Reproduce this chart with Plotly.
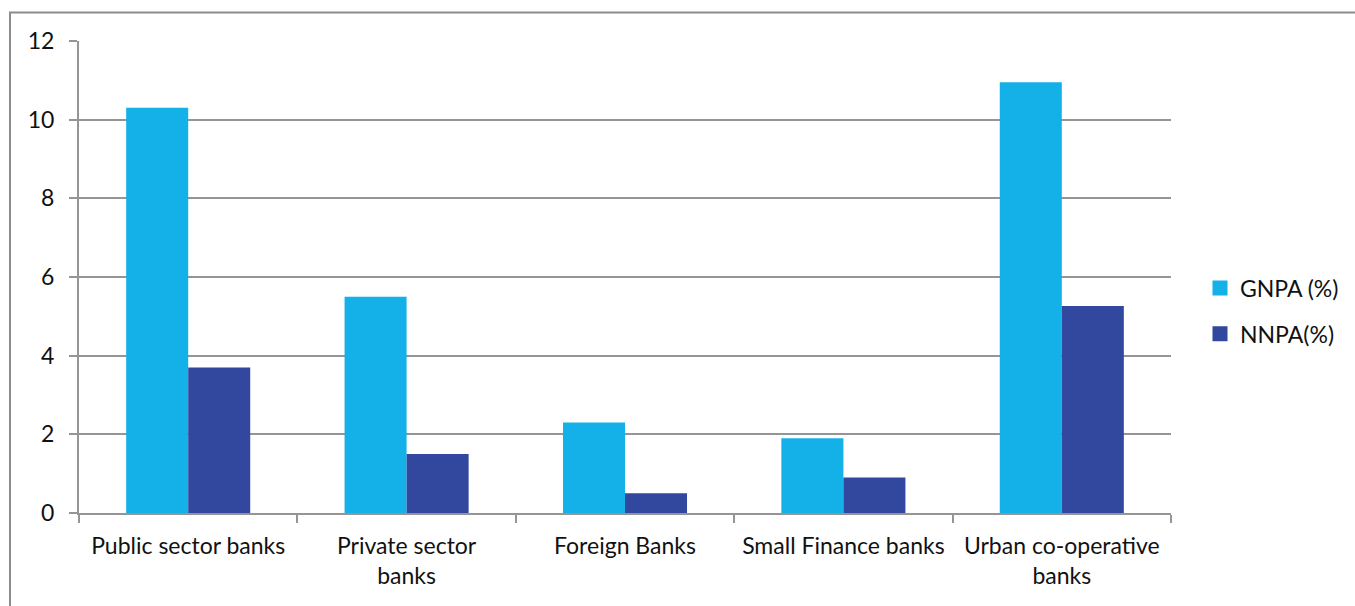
import plotly.graph_objects as go

# Bank groups and asset-quality ratios
categories = [
    "Public sector banks",
    "Private sector<br>banks",
    "Foreign Banks",
    "Small Finance banks",
    "Urban co-operative<br>banks",
]
gnpa = [10.3, 5.5, 2.3, 1.9, 10.95]
nnpa = [3.7, 1.5, 0.5, 0.9, 5.26]
y_ticks = [0, 2, 4, 6, 8, 10, 12]

FONT = "Lato"
TEXT = "#111111"
GRID = "#959595"
C_GNPA = "#13B1E8"
C_NNPA = "#31489E"
FS = 23

fig = go.Figure()
fig.add_trace(go.Bar(name="GNPA (%)", x=categories, y=gnpa,
                     marker=dict(color=C_GNPA, line=dict(width=0)),
                     showlegend=False, hoverinfo="x+y"))
fig.add_trace(go.Bar(name="NNPA(%)", x=categories, y=nnpa,
                     marker=dict(color=C_NNPA, line=dict(width=0)),
                     showlegend=False, hoverinfo="x+y"))

# Legend keys drawn as square swatches
for name, col, grp in [("GNPA (%)", C_GNPA, "g"), ("NNPA(%)", C_NNPA, "n")]:
    fig.add_trace(go.Scatter(name=name, x=[None], y=[None], mode="markers",
                             marker=dict(symbol="square", size=15, color=col),
                             legendgroup=grp, showlegend=True))

W, H = 1355, 606
L, R, T, B = 79, 184, 41, 93
pw, ph = W - L - R, H - T - B


def px_x(p):
    return (p - L) / pw


def px_y(p):
    return (H - B - p) / ph


# Outer chart frame (left and top edges)
fig.add_shape(type="path", xref="paper", yref="paper",
              path=f"M {px_x(10)} {px_y(620)} L {px_x(10)} {px_y(12.5)} L {px_x(1370)} {px_y(12.5)}",
              line=dict(color="#8c8c8c", width=2), layer="above")

fig.update_layout(
    width=W, height=H,
    margin=dict(l=L, r=R, t=T, b=B, pad=0, autoexpand=False),
    paper_bgcolor="white", plot_bgcolor="white",
    barmode="group", bargap=0.432, bargroupgap=0,
    font=dict(family=FONT, size=FS, color=TEXT),
    showlegend=True,
    legend=dict(x=px_x(1200), y=px_y(311), xanchor="left", yanchor="middle",
                traceorder="grouped", tracegroupgap=13,
                font=dict(family=FONT, size=FS, color=TEXT),
                itemwidth=30, bgcolor="rgba(0,0,0,0)"),
    xaxis=dict(
        type="category", tickson="boundaries", ticks="outside", ticklen=8,
        tickwidth=2, tickcolor=GRID, showline=True, linecolor=GRID, linewidth=2,
        showgrid=False, tickfont=dict(family=FONT, size=FS, color=TEXT),
        tickangle=0, automargin=False,
        ticklabelstandoff=11, fixedrange=True,
    ),
    yaxis=dict(
        range=[0, 12], tickvals=y_ticks, ticks="outside", ticklen=8,
        tickwidth=2, tickcolor=GRID, showline=True, linecolor=GRID, linewidth=2,
        showgrid=True, gridcolor=GRID, gridwidth=2, zeroline=False,
        tickfont=dict(family=FONT, size=FS, color=TEXT),
        automargin=False, ticklabelstandoff=10, fixedrange=True,
    ),
)

fig.write_html("out.html")
